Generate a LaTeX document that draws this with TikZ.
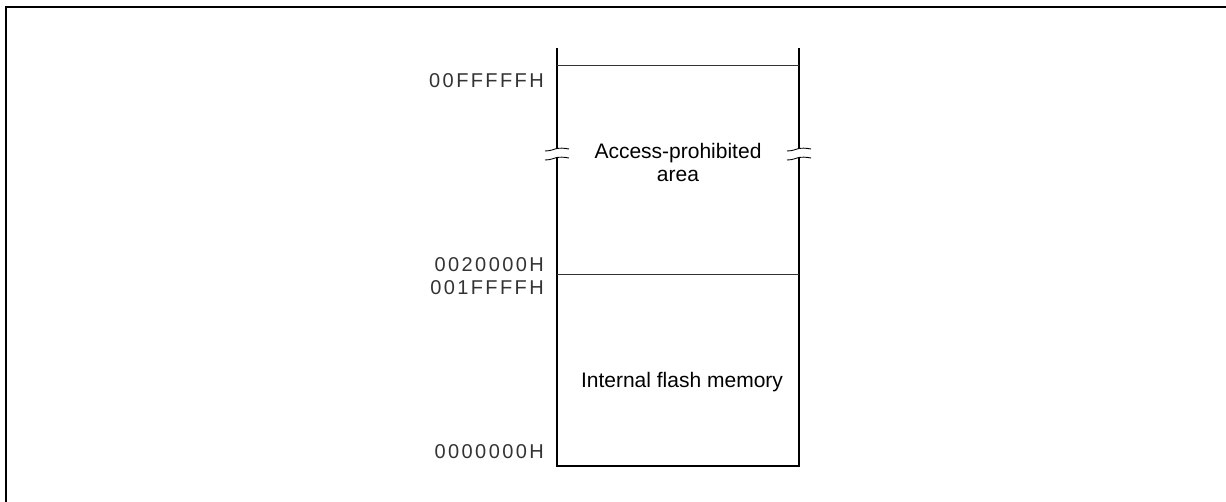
\documentclass[tikz,border=0pt]{standalone}
\usepackage{fontspec}
\setmainfont{Liberation Sans}
\newfontfamily\addrfont[LetterSpace=12]{Liberation Sans}
\begin{document}
\begin{tikzpicture}[x=1pt,y=-1pt,
  frameline/.style={line width=2pt},
  wall/.style={line width=2.6pt},
  divider/.style={line width=0.9pt, black!80},
  addr/.style={anchor=base east, inner sep=0pt, font=\addrfont\fontsize{20}{24}\selectfont, text=black!80},
  areatext/.style={inner sep=0pt, align=center, font=\fontsize{21}{23}\selectfont},
  brk/.pic={\draw[line width=0.9pt] (-12,2) .. controls (-6,2) and (-3,0) .. (0,-0.5) .. controls (3,-1) and (7,-1) .. (12,0);}
]
\useasboundingbox (0,0) rectangle (1226,502);
% outer frame (only top and left visible)
\draw[frameline] (6,510) -- (6,7) -- (1235,7);
% box coordinates
\coordinate (lt) at (557,48);
\coordinate (rt) at (799,48);
\coordinate (lb) at (557,466);
\coordinate (rb) at (799,466);
\coordinate (lgapT) at (557,148.5);
\coordinate (lgapB) at (557,157.5);
\coordinate (rgapT) at (799,148.5);
\coordinate (rgapB) at (799,157.5);
\coordinate (top1) at (557,65);
\coordinate (top2) at (799,65);
\coordinate (mid1) at (557,274);
\coordinate (mid2) at (799,274);
% walls
\draw[wall] (lt) -- (lgapT);
\draw[wall] (rt) -- (rgapT);
\draw[wall, line join=miter] (lgapB) -- (lb) -- (rb) -- (rgapB);
% break marks
\pic at (557,149) {brk};
\pic at (557,158) {brk};
\pic at (799,149) {brk};
\pic at (799,158) {brk};
% dividers
\draw[divider] (top1) -- (top2);
\draw[divider] (mid1) -- (mid2);
% area texts
\node[areatext] (prohib) at (678,162) {Access-prohibited\\area};
\node[areatext, anchor=base] (flash) at (682,388) {Internal flash memory};
% addresses
\node[addr] (a1) at (544,88) {00FFFFFH};
\node[addr] (a2) at (544,271.5) {0020000H};
\node[addr] (a3) at (544,295) {001FFFFH};
\node[addr] (a4) at (544,458) {0000000H};
\end{tikzpicture}
\end{document}
